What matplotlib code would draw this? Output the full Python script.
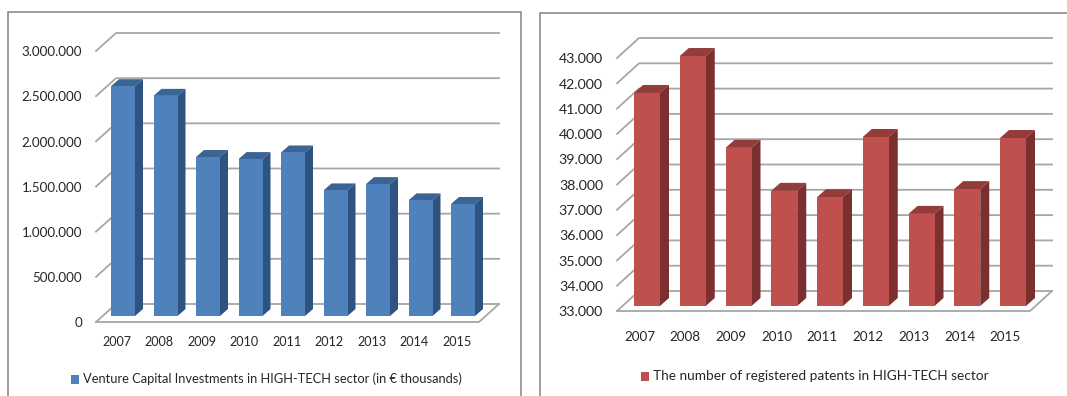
import matplotlib
matplotlib.use('Agg')
import matplotlib.pyplot as plt
from matplotlib.patches import Polygon, Rectangle

W, H = 1067, 396

years = ['2007', '2008', '2009', '2010', '2011', '2012', '2013', '2014', '2015']
venture = [2544000, 2437000, 1760000, 1737000, 1810000, 1390000, 1460000, 1280000, 1240000]
patents = [41420, 42880, 39250, 37550, 37300, 39680, 36640, 37620, 39640]
venture_ticks = [0, 500000, 1000000, 1500000, 2000000, 2500000, 3000000]
patent_ticks = list(range(33000, 44000, 1000))

plt.rcParams['font.family'] = ['Lato', 'DejaVu Sans']


def dotted(v):
    return f'{v:,}'.replace(',', '.')


def chart(box, plane, wall, bar_off, first, step, width, side, values, ticks,
          colors, label, legend_xy, fs, year_y, year_shift, tick_pad, leg_fs):
    # frame of the panel
    fig.add_artist(Rectangle((box[0] / W, 1 - box[3] / H), (box[2] - box[0]) / W,
                             (box[3] - box[1]) / H, fill=False, ec='#8c8c8c', lw=1.2,
                             transform=fig.transFigure))
    # axes = the front plane of the fake 3d box, in pixels
    x0, x1, ytop, ybot = plane
    ax = fig.add_axes([x0 / W, 1 - ybot / H, (x1 - x0) / W, (ybot - ytop) / H])
    ax.set_xlim(x0, x1)
    ax.set_ylim(ticks[0], ticks[-1])
    ax.axis('off')
    per_px = (ticks[-1] - ticks[0]) / (ybot - ytop)
    wx, wy = wall[0], wall[1] * per_px

    for t in ticks:
        ax.plot([x0, x0 + wx, x1 + wx], [t, t + wy, t + wy], color='#a6a6a6', lw=1.3,
                clip_on=False, zorder=1)
        ax.text(x0 - tick_pad, t - 1.2 * per_px, dotted(t), ha='right', va='center', fontsize=fs,
                color='#262626')
    ax.plot([x0, x1, x1 + wx], [ticks[0], ticks[0], ticks[0] + wy], color='#a6a6a6', lw=1.3,
            clip_on=False, zorder=1)

    by = bar_off[1] * per_px
    sx, sy = side[0], side[1] * per_px
    base = ticks[0]
    for i, v in enumerate(values):
        l = first + i * step
        r = l + width
        ax.add_patch(Polygon([(l, v + by), (r, v + by), (r + sx, v + by + sy), (l + sx, v + by + sy)],
                             fc=colors[1], ec='none', clip_on=False, zorder=3))
        ax.add_patch(Polygon([(r, base + by), (r + sx, base + by + sy), (r + sx, v + by + sy), (r, v + by)],
                             fc=colors[2], ec='none', clip_on=False, zorder=3))
        ax.add_patch(Polygon([(l, base + by), (r, base + by), (r, v + by), (l, v + by)],
                             fc=colors[0], ec='none', clip_on=False, zorder=4))
        fig.text((l + width / 2 + year_shift) / W, 1 - year_y / H, years[i], ha='center',
                 va='center', fontsize=fs - 0.5, color='#262626')

    lx, ly = legend_xy
    fig.add_artist(Rectangle((lx / W, 1 - (ly + 4.5) / H), 8 / W, 9 / H, fc=colors[0], ec='none',
                             transform=fig.transFigure))
    fig.text((lx + 12) / W, 1 - ly / H, label, ha='left', va='center', fontsize=leg_fs,
             color='#262626')


fig = plt.figure(figsize=(W / 100, H / 100), dpi=100)

chart((8, 12, 521, 402), (96, 479, 51, 322), (20, 18), (15, 6), 111, 42.5, 24, (8, 7),
      venture, venture_ticks, ('#4f81bd', '#3a6494', '#2f5380'),
      'Venture Capital Investments in HIGH-TECH sector (in € thousands)', (71, 379), 9.6, 342, -6, 14, 9.3)

chart((540, 13, 1075, 402), (617, 1030, 58, 311), (22, 20), (17, 5), 634, 45.75, 26, (9, 8),
      patents, patent_ticks, ('#c0504d', '#943c3a', '#7b2f2e'),
      'The number of registered patents in HIGH-TECH sector', (641, 376), 10.2, 337, -7.5, 14, 9.8)

fig.savefig('out.png', dpi=100)
